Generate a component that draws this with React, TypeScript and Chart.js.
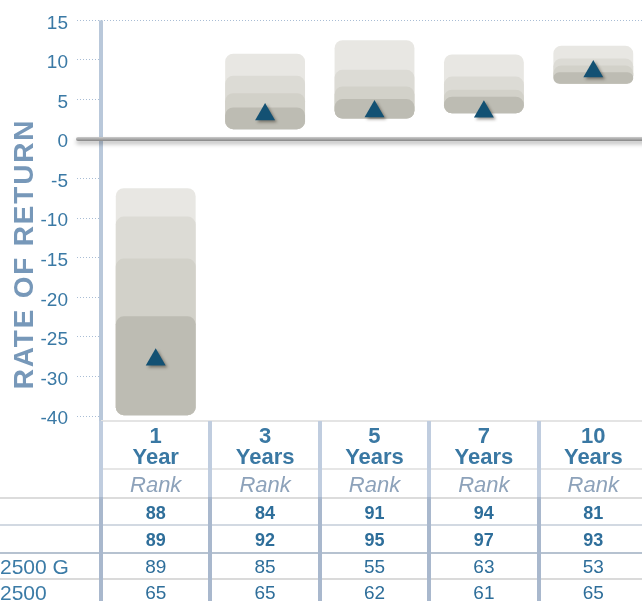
import React, { useEffect, useRef } from 'react';
import { Chart, registerables } from 'chart.js';

Chart.register(...registerables);

// ---- data ----
const categories = ['1 Year', '3 Years', '5 Years', '7 Years', '10 Years'];
const headerTop = ['1', '3', '5', '7', '10'];
const headerBottom = ['Year', 'Years', 'Years', 'Years', 'Years'];
const band95 = [-6.2, 10.8, 12.5, 10.7, 11.8];
const band75 = [-9.8, 8.0, 8.75, 7.9, 10.2];
const band50 = [-15.1, 5.8, 6.65, 6.25, 9.3];
const band25 = [-22.4, 4.0, 5.05, 5.35, 8.45];
const band5 = [-34.9, 1.25, 2.6, 3.25, 7.0];
const fundReturn = [-27.9, 3.1, 3.5, 3.45, 8.55];
const yTicks = [15, 10, 5, 0, -5, -10, -15, -20, -25, -30, -35];
const yTickLabels = ['15', '10', '5', '0', '-5', '-10', '-15', '-20', '-25', '-30', '-40'];
const rankRow1 = ['88', '84', '91', '94', '81'];
const rankRow2 = ['89', '92', '95', '97', '93'];
const rankRow3 = ['89', '85', '55', '63', '53'];
const rankRow4 = ['65', '65', '62', '61', '65'];
const rowLabels = ['', '', '2500 G', '2500'];

// ---- layout / style ----
const FONT = '"Liberation Sans", Arial, Helvetica, sans-serif';
const CANVAS_W = 660;
const CANVAS_H = 601;
const PLOT_LEFT = 101;
const PAD_RIGHT = 12;
const PLOT_TOP = 16;
const PLOT_BOTTOM = 416;
const COL_W = (CANVAS_W - PAD_RIGHT - PLOT_LEFT) / categories.length;
const TICK_COLOR = '#3a79a5';
const DOT_COLOR = '#a9bdd5';
const AXIS_COLOR = '#b9c8da';
const TITLE_COLOR = '#7798b9';
const BAND_COLORS = ['#bdbcb3', '#d2d1c9', '#dcdbd5', '#e8e7e3'];

const decorPlugin = {
  id: 'decor',
  beforeDatasetsDraw(chart: any) {
    const { ctx, chartArea } = chart;
    ctx.save();
    ctx.fillStyle = AXIS_COLOR;
    ctx.fillRect(chartArea.left - 2, chartArea.top, 4, chartArea.bottom + 6 - chartArea.top);
    ctx.restore();
  },
  beforeDatasetDraw(chart: any, args: any) {
    if (args.meta.type === 'line') {
      const ctx = chart.ctx;
      ctx.save();
      ctx.shadowColor = 'rgba(40,30,20,0.45)';
      ctx.shadowBlur = 3;
      ctx.shadowOffsetX = 2;
      ctx.shadowOffsetY = 2;
    }
  },
  afterDatasetDraw(chart: any, args: any) {
    if (args.meta.type === 'line') {
      chart.ctx.restore();
    }
  },
  afterDatasetsDraw(chart: any) {
    const { ctx, chartArea, scales } = chart;
    const y = scales.y.getPixelForValue(0);
    const x0 = chartArea.left - 25;
    ctx.save();
    ctx.shadowColor = 'rgba(0,0,0,0.28)';
    ctx.shadowBlur = 4;
    ctx.shadowOffsetY = 3;
    const g = ctx.createLinearGradient(0, y - 2, 0, y + 2);
    g.addColorStop(0, '#cacaca');
    g.addColorStop(1, '#858585');
    ctx.fillStyle = g;
    ctx.beginPath();
    ctx.roundRect(x0, y - 2, chart.width - x0, 4, 2);
    ctx.fill();
    ctx.restore();
  },
  afterDraw(chart: any) {
    const ctx = chart.ctx;
    ctx.save();
    ctx.translate(33, 254);
    ctx.rotate(-Math.PI / 2);
    ctx.font = `bold 28px ${FONT}`;
    (ctx as any).letterSpacing = '1.8px';
    ctx.fillStyle = TITLE_COLOR;
    ctx.textAlign = 'center';
    ctx.textBaseline = 'alphabetic';
    ctx.fillText('RATE OF RETURN', 0, 0);
    ctx.restore();
  },
};

function ChartCanvas() {
  const ref = useRef<HTMLCanvasElement | null>(null);
  useEffect(() => {
    if (!ref.current) return;
    const bands = [band25, band50, band75, band95];
    const barSets = bands.map((tops, k) => ({
      type: 'bar' as const,
      label: `band${k}`,
      data: tops.map((t, i) => [band5[i], t]),
      backgroundColor: BAND_COLORS[k],
      borderWidth: 0,
      borderRadius: 8,
      borderSkipped: false,
      grouped: false,
      barPercentage: 0.73,
      categoryPercentage: 1,
      order: k + 1,
    }));
    const chart = new Chart(ref.current, {
      type: 'bar',
      data: {
        labels: categories,
        datasets: [
          ...barSets,
          {
            type: 'line' as const,
            label: 'Fund',
            data: fundReturn,
            showLine: false,
            pointStyle: 'triangle',
            pointRadius: 11.5,
            pointHoverRadius: 11.5,
            pointBackgroundColor: '#135173',
            pointBorderWidth: 0,
            order: 0,
          } as any,
        ],
      },
      options: {
        responsive: false,
        animation: false,
        events: [],
        layout: {
          padding: { left: 0, right: PAD_RIGHT, top: PLOT_TOP, bottom: CANVAS_H - PLOT_BOTTOM },
        },
        plugins: {
          legend: { display: false },
          tooltip: { enabled: false },
          title: { display: false },
        },
        scales: {
          x: {
            type: 'category',
            display: false,
            offset: true,
          },
          y: {
            min: -35,
            max: 15,
            afterBuildTicks: (s: any) => {
              s.ticks = yTicks.map((value) => ({ value }));
            },
            afterFit: (s: any) => {
              s.width = PLOT_LEFT;
            },
            ticks: {
              callback: (_v: any, i: number) => yTickLabels[i],
              color: TICK_COLOR,
              font: { family: FONT, size: 19 },
              padding: 9,
              labelOffset: 3,
            },
            grid: {
              drawOnChartArea: true,
              color: (c: any) => (c.tick && c.tick.value === 15 ? DOT_COLOR : 'rgba(0,0,0,0)'),
              tickColor: DOT_COLOR,
              tickLength: 24,
              tickBorderDash: [1, 2],
              lineWidth: 1,
            },
            border: { display: false, dash: [1, 2] },
          },
        },
      } as any,
      plugins: [decorPlugin],
    });
    return () => chart.destroy();
  }, []);
  return (
    <canvas
      ref={ref}
      width={CANVAS_W}
      height={CANVAS_H}
      style={{ position: 'absolute', left: 0, top: 0, width: CANVAS_W, height: CANVAS_H }}
    />
  );
}

const hLines = [
  { y: 420, left: PLOT_LEFT, color: '#e4e4e4' },
  { y: 468, left: PLOT_LEFT, color: '#e6e6e6' },
  { y: 496.5, left: 0, color: '#dcdcdc' },
  { y: 524, left: 0, color: '#d2d9e2' },
  { y: 552, left: 0, color: '#b6c2d0' },
  { y: 578, left: 0, color: '#dadada' },
];

export default function App() {
  const colLeft = (i: number) => PLOT_LEFT + i * COL_W;
  const rows = [
    { values: rankRow1, bold: true, top: 502 },
    { values: rankRow2, bold: true, top: 529 },
    { values: rankRow3, bold: false, top: 555.5 },
    { values: rankRow4, bold: false, top: 581.5 },
  ];
  return (
    <div
      style={{
        position: 'absolute',
        left: 0,
        top: 0,
        width: 642,
        height: 601,
        overflow: 'hidden',
        background: '#ffffff',
        fontFamily: FONT,
      }}
    >
      <ChartCanvas />
      {hLines.map((l, i) => (
        <div
          key={'h' + i}
          style={{ position: 'absolute', left: l.left, top: l.y, width: 700, height: 2, background: l.color }}
        />
      ))}
      {Array.from({ length: categories.length + 1 }).map((_, i) => (
        <React.Fragment key={'v' + i}>
          <div
            style={{
              position: 'absolute',
              left: colLeft(i) - 2,
              top: 421,
              width: 4,
              height: 76,
              background: '#c0cddf',
            }}
          />
          <div
            style={{
              position: 'absolute',
              left: colLeft(i) - 2,
              top: 497,
              width: 4,
              height: 110,
              background: '#a9b8cd',
            }}
          />
        </React.Fragment>
      ))}
      {categories.map((c, i) => (
        <React.Fragment key={c}>
          <div
            style={{
              position: 'absolute',
              left: colLeft(i),
              width: COL_W,
              top: 425,
              textAlign: 'center',
              fontWeight: 'bold',
              fontSize: 22,
              lineHeight: '21px',
              color: '#3a78a3',
            }}
          >
            <div>{headerTop[i]}</div>
            <div>{headerBottom[i]}</div>
          </div>
          <div
            style={{
              position: 'absolute',
              left: colLeft(i),
              width: COL_W,
              top: 474,
              textAlign: 'center',
              fontStyle: 'italic',
              fontSize: 22,
              lineHeight: '22px',
              color: '#8da2ba',
            }}
          >
            Rank
          </div>
          {rows.map((r, k) => (
            <div
              key={k}
              style={{
                position: 'absolute',
                left: colLeft(i),
                width: COL_W,
                top: r.top,
                textAlign: 'center',
                fontWeight: r.bold ? 'bold' : 'normal',
                fontSize: r.bold ? 18 : 19,
                lineHeight: '22px',
                color: '#2e6e9a',
              }}
            >
              {r.values[i]}
            </div>
          ))}
        </React.Fragment>
      ))}
      {rows.map((r, k) =>
        rowLabels[k] ? (
          <div
            key={'l' + k}
            style={{
              position: 'absolute',
              left: 0,
              top: r.top,
              fontSize: 21,
              lineHeight: '22px',
              color: '#3b7ba6',
              whiteSpace: 'nowrap',
            }}
          >
            {rowLabels[k]}
          </div>
        ) : null
      )}
    </div>
  );
}
